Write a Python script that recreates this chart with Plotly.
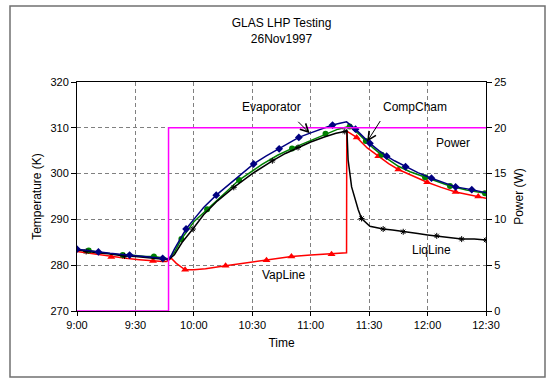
import plotly.graph_objects as go

# ---------------- data (minutes after 9:00) ----------------
tick_vals = [0, 30, 60, 90, 120, 150, 180, 210]
tick_text = ["9:00", "9:30", "10:00", "10:30", "11:00", "11:30", "12:00", "12:30"]

evap_t = [0, 5, 11, 17, 22, 27, 33, 39, 44, 46.5, 48, 50, 52.7, 56, 60, 65, 71.5, 80, 90.7, 97,
          103.8, 110, 113.9, 120, 126, 131.2, 135, 138.4, 143, 146.5, 150.4, 155, 159, 163, 168.7,
          175, 182, 188, 194.4, 202.7, 210]
evap_T = [283.5, 283.2, 282.9, 282.6, 282.4, 282.2, 282.0, 281.7, 281.5, 281.3, 281.8, 283.5, 285.5,
          287.9, 290.0, 292.6, 295.3, 298.4, 302.1, 303.8, 305.4, 306.9, 307.9, 308.9, 309.9, 310.6,
          311.0, 311.3, 309.7, 308.2, 306.6, 305.0, 303.8, 302.8, 301.5, 300.2, 299.0, 298.0, 297.1,
          296.5, 295.8]
evap_mk = [0, 11, 27, 44, 56, 71.5, 90.7, 103.8, 113.9, 131.2, 143, 150.4, 159, 168.7, 182, 194.4, 202.7]

comp_t = [0, 6, 12, 18, 23.5, 30, 35, 39.5, 44, 47, 50, 53.6, 60, 66.8, 75, 83.2, 95, 103, 110.4,
          120, 127.6, 134, 140, 144, 148.3, 152, 156.4, 165, 171, 178.7, 185, 191.5, 200, 209.5]
comp_T = [283.3, 283.2, 282.8, 282.5, 282.2, 282.1, 281.9, 281.9, 281.6, 281.4, 282.8, 285.7, 289.5,
          292.2, 295.3, 298.6, 302.0, 304.0, 305.5, 307.2, 308.7, 309.7, 310.3, 308.9, 307.1, 305.6,
          304.1, 301.6, 300.4, 299.2, 298.2, 297.3, 296.4, 295.7]
comp_mk = [6, 23.5, 39.5, 53.6, 66.8, 83.2, 110.4, 127.6, 140, 148.3, 156.4, 178.7, 191.5, 209.5]

liq_t = [0, 4.7, 10, 16, 24.4, 30, 37, 44.1, 47, 50, 54, 59.5, 65, 72, 80.5, 90, 100.3, 107, 113.5,
         120, 127, 133, 137.5, 138.6, 139.2, 141, 144.4, 146.1, 150.4, 157.2, 162, 167.5, 171, 175,
         180, 184.7, 191, 197.5, 204, 210]
liq_T = [283.4, 283.0, 282.7, 282.5, 282.0, 281.9, 281.6, 281.3, 281.2, 282.3, 285.0, 287.9, 291.0,
         294.0, 297.0, 300.0, 302.8, 304.4, 305.7, 306.9, 308.0, 308.8, 309.2, 309.4, 303.0, 297.1,
         292.1, 290.2, 288.5, 287.9, 287.7, 287.3, 287.1, 286.9, 286.6, 286.4, 286.0, 285.7, 285.7,
         285.5]
liq_mk = [4.7, 24.4, 44.1, 59.5, 80.5, 100.3, 113.5, 137.5, 146.1, 157.2, 167.5, 184.7, 197.5, 210]

vap_t = [0, 5, 10, 17.6, 25, 32, 39, 44, 46, 48.4, 51, 55.5, 60, 66, 76.3, 86, 97.3, 110.1, 120,
         130.7, 138.4, 138.5, 143.6, 149, 154.7, 160, 165, 172, 179.8, 187, 194.4, 200, 206, 210]
vap_T = [283.0, 282.7, 282.4, 281.8, 281.5, 281.2, 280.9, 280.8, 280.8, 281.5, 280.4, 279.0, 279.0,
         279.2, 279.9, 280.5, 281.1, 281.9, 282.2, 282.4, 282.7, 309.3, 307.9, 305.6, 303.8, 302.2,
         300.9, 299.5, 298.1, 297.0, 296.0, 295.5, 295.0, 294.6]
vap_mk = [17.6, 39, 55.5, 76.3, 97.3, 110.1, 130.7, 143.6, 154.7, 165, 179.8, 194.4, 206]

pow_t = [0, 47, 47, 210]
pow_W = [0, 0, 20, 20]

FONT = "Liberation Sans, Arial, sans-serif"

fig = go.Figure()

fig.add_trace(go.Scatter(x=pow_t, y=pow_W, mode="lines", yaxis="y2",
                         line=dict(color="#FF00FF", width=1.5), name="Power"))


def add_series(t, T, mk, color, symbol, size, name, mline=0):
    fig.add_trace(go.Scatter(x=t, y=T, mode="lines", line=dict(color=color, width=1.5),
                             name=name))
    idx = [t.index(v) for v in mk]
    fig.add_trace(go.Scatter(x=[t[i] for i in idx], y=[T[i] for i in idx], mode="markers",
                             marker=dict(color=color, symbol=symbol, size=size,
                                         line=dict(color=color, width=mline)),
                             name=name, showlegend=False))


add_series(vap_t, vap_T, vap_mk, "#FF0000", "triangle-up", 7, "VapLine")
add_series(comp_t, comp_T, comp_mk, "#008000", "circle", 6, "CompCham")
add_series(liq_t, liq_T, liq_mk, "#000000", "asterisk-open", 5, "LiqLine", mline=1)
add_series(evap_t, evap_T, evap_mk, "#000080", "diamond", 6, "Evaporator")

grid = dict(showgrid=True, gridcolor="#808080", griddash="4px,3px", gridwidth=1)

fig.update_layout(
    width=553, height=385,
    margin=dict(l=77, r=67, t=82, b=74),
    paper_bgcolor="white", plot_bgcolor="white",
    showlegend=False,
    font=dict(family=FONT, size=11, color="black"),
    title=dict(text="GLAS LHP Testing<br>26Nov1997", x=0.5, xref="paper",
               y=1 - 27 / 385, yref="container", yanchor="top",
               font=dict(family=FONT, size=12, color="black")),
    xaxis=dict(range=[0, 210], tickvals=tick_vals, ticktext=tick_text,
               showline=True, linecolor="black", linewidth=1, mirror=True,
               ticks="outside", ticklen=4, tickcolor="black", zeroline=False,
               title=dict(text="Time", standoff=8, font=dict(size=12)), **grid),
    yaxis=dict(range=[270, 320], dtick=10, showline=True, linecolor="black", linewidth=1,
               ticks="outside", ticklen=5, tickcolor="black", zeroline=False,
               title=dict(text="Temperature (K)", standoff=6, font=dict(size=12)), **grid),
    yaxis2=dict(range=[0, 25], dtick=5, overlaying="y", side="right", showline=True,
                linecolor="black", linewidth=1, ticks="outside", ticklen=5, tickcolor="black",
                showgrid=False, zeroline=False,
                title=dict(text="Power (W)", standoff=9, font=dict(size=12))),
)

# outer frame
fig.add_shape(type="rect", xref="paper", yref="paper",
              x0=(10 - 77) / 409, x1=(545 - 77) / 409, y0=(311 - 377) / 229, y1=(311 - 6) / 229,
              line=dict(color="#707070", width=1.5), fillcolor="rgba(0,0,0,0)", layer="below")

# labels
labels = [("Evaporator", 99.8, 314.5), ("CompCham", 173.5, 314.5), ("Power", 193.2, 306.7),
          ("VapLine", 105.8, 277.9), ("LiqLine", 182.1, 283.3)]
for txt, lx, ly in labels:
    fig.add_annotation(x=lx, y=ly, text=txt, showarrow=False,
                       font=dict(family=FONT, size=12, color="black"))

# arrows
for tx, ty, ax, ay in [(119.5, 308.8, -13, -13), (149, 307.0, 14, -22)]:
    fig.add_annotation(x=tx, y=ty, text="", showarrow=True, ax=ax, ay=ay,
                       arrowhead=5, arrowsize=1.6, arrowwidth=1, arrowcolor="black")

fig.write_html("out.html", config={"displayModeBar": False},
               post_script="document.body.style.margin='0';")
